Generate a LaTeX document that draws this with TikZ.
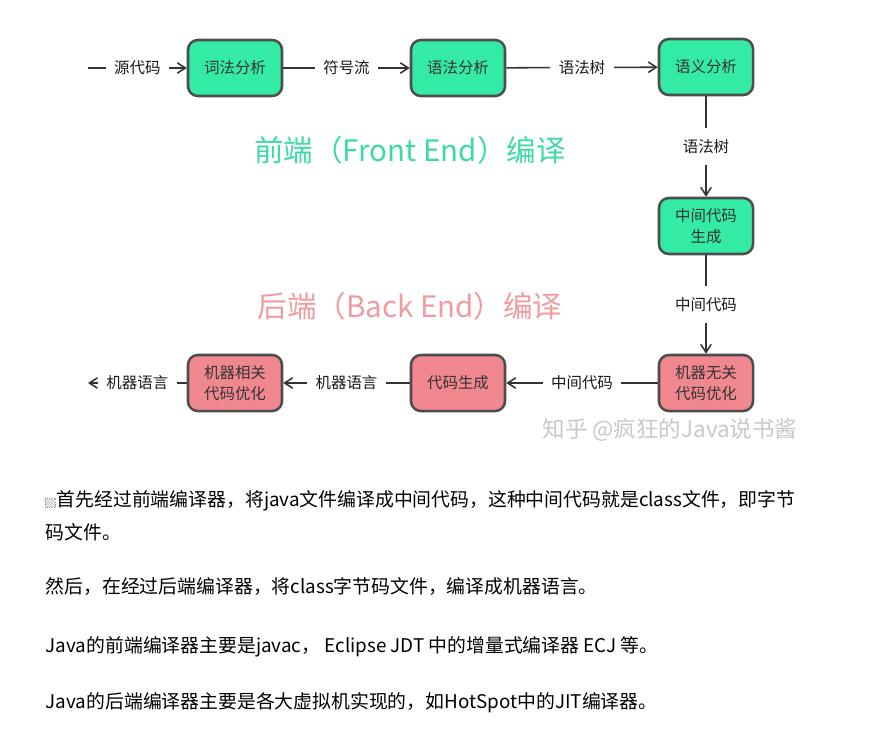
\documentclass[tikz,border=0pt]{standalone}
\usepackage{fontspec}
\setmainfont{Noto Sans CJK SC}
\usetikzlibrary{arrows.meta}
\definecolor{cgreen}{HTML}{34EBA6}
\definecolor{cpink}{HTML}{F2888F}
\definecolor{cframe}{HTML}{4D4D4D}
\definecolor{ctitleg}{HTML}{3DDBA3}
\definecolor{ctitlep}{HTML}{F09BA0}
\definecolor{cmark}{HTML}{C8C8C8}
\tikzset{
  every picture/.style={line width=1.1pt},
  stage/.style={draw=cframe, fill=#1, line width=1.8pt, rounded corners=7pt, align=center,
    minimum width=2.35cm, minimum height=1.4cm, text=black!80, font=\fontsize{11}{15}\selectfont},
  stage/.default=cgreen,
  arrow/.style={-{Straight Barb[length=2mm, width=2.6mm]}, draw=black!80},
  lbl/.style={fill=white, inner xsep=6pt, inner ysep=2pt, text=black!90, font=\fontsize{11}{14}\selectfont},
  vlbl/.style={lbl, inner ysep=8pt},
  title/.style={font=\fontsize{21}{24}\selectfont},
  para/.style={anchor=west, inner sep=0pt, text=black, font=\fontsize{13.4}{18}\selectfont},
}
\begin{document}
\begin{tikzpicture}[x=0.025cm, y=-0.025cm]
  \useasboundingbox (0,0) rectangle (884,733);
  % front end
  \coordinate (src) at (88,68);
  \node[stage] (lex) at (235,68) {词法分析};
  \node[stage] (syn) at (458,68) {语法分析};
  \node[stage] (sem) at (706,67) {语义分析};
  \node[stage] (ir) at (706,226) {中间代码\\生成};
  \draw[arrow] (src) -- node[lbl] {源代码} (lex);
  \draw[arrow] (lex) -- node[lbl] {符号流} (syn);
  \draw[arrow] (syn) -- node[lbl] {语法树} (sem);
  \draw[arrow] (sem) -- node[vlbl] {语法树} (ir);
  \node[title, text=ctitleg] (fe) at (410,150) {前端（Front End）编译};
  % back end
  \node[stage=cpink] (opt) at (706,383) {机器无关\\代码优化};
  \node[stage=cpink] (gen) at (458,383) {代码生成};
  \node[stage=cpink] (mopt) at (235,383) {机器相关\\代码优化};
  \coordinate (out) at (88,383);
  \draw[arrow] (ir) -- node[vlbl] {中间代码} (opt);
  \draw[arrow] (opt) -- node[lbl] {中间代码} (gen);
  \draw[arrow] (gen) -- node[lbl] {机器语言} (mopt);
  \draw[arrow] (mopt) -- node[lbl] {机器语言} (out);
  \node[title, text=ctitlep] (be) at (410,306) {后端（Back End）编译};
  \node[text=cmark, font=\fontsize{16}{18}\selectfont] (wm) at (670,430) {知乎 @疯狂的Java说书酱};
  % notes below
  \node[draw=gray, fill=gray!25, densely dotted, line width=0.5pt, minimum width=7pt, minimum height=6pt, inner sep=0pt] (mark) at (50,503) {};
  \node[para] (p1) at (56,501) {首先经过前端编译器，将java文件编译成中间代码，这种中间代码就是class文件，即字节};
  \node[para] (p2) at (45,532) {码文件。};
  \node[para] (p3) at (45,587) {然后，在经过后端编译器，将class字节码文件，编译成机器语言。};
  \node[para] (p4) at (45,647) {Java的前端编译器主要是javac， Eclipse JDT 中的增量式编译器 ECJ 等。};
  \node[para] (p5) at (45,703) {Java的后端编译器主要是各大虚拟机实现的，如HotSpot中的JIT编译器。};
\end{tikzpicture}
\end{document}
